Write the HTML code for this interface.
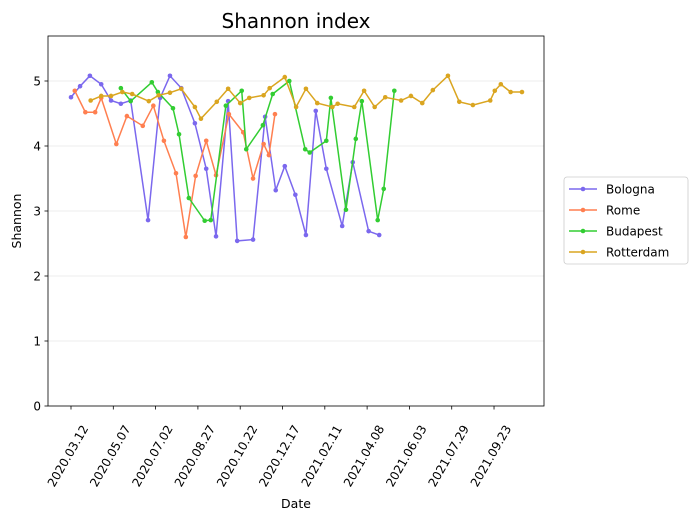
<!DOCTYPE html>
<html><head><meta charset="utf-8"><style>
body{margin:0;background:#fff;font-family:"Liberation Sans","DejaVu Sans",sans-serif}
svg text{font-family:"DejaVu Sans","Liberation Sans",sans-serif}
</style></head><body>
<svg id="c" width="697" height="521"></svg>
<script>
const tickLabels=["2020.03.12","2020.05.07","2020.07.02","2020.08.27","2020.10.22","2020.12.17","2021.02.11","2021.04.08","2021.06.03","2021.07.29","2021.09.23"];
const tickDays=[0,56,112,168,224,280,336,392,448,504,560];
const yTicks=[0,1,2,3,4,5];
const seriesNames=["Bologna","Rome","Budapest","Rotterdam"];
const seriesColors=["#7b68ee","#ff7f50","#32cd32","#daa520"];
const bolognaDays=[0,12,25,40,53,66,79,102,118,131,146,164,179,192,208,220,241,257,271,283,297,311,324,338,359,373,394,408];
const bolognaVals=[4.75,4.92,5.08,4.95,4.7,4.65,4.7,2.86,4.74,5.08,4.89,4.35,3.65,2.61,4.69,2.54,2.56,4.45,3.32,3.69,3.25,2.63,4.54,3.65,2.77,3.75,2.69,2.63];
const romeDays=[5,19,32,40,60,74,95,109,123,139,152,165,179,192,209,228,241,255,262,270];
const romeVals=[4.85,4.52,4.52,4.74,4.03,4.46,4.31,4.62,4.08,3.58,2.6,3.54,4.08,3.55,4.49,4.21,3.5,4.03,3.86,4.49];
const budapestDays=[66,79,107,115,135,143,156,177,185,205,226,232,254,267,289,310,316,338,344,364,377,385,406,414,428];
const budapestVals=[4.89,4.69,4.98,4.83,4.58,4.18,3.2,2.85,2.86,4.62,4.85,3.95,4.32,4.8,5.0,3.95,3.9,4.08,4.74,3.02,4.11,4.69,2.86,3.34,4.85];
const rotterdamDays=[26,40,53,68,81,103,116,131,146,164,172,193,208,224,236,255,263,283,298,311,326,346,353,375,388,402,416,437,450,465,479,499,514,532,555,561,569,582,597];
const rotterdamVals=[4.7,4.77,4.77,4.83,4.8,4.69,4.78,4.82,4.88,4.6,4.42,4.68,4.88,4.66,4.74,4.78,4.89,5.06,4.6,4.88,4.66,4.6,4.65,4.6,4.85,4.6,4.75,4.7,4.77,4.66,4.86,5.08,4.68,4.63,4.7,4.85,4.95,4.83,4.83];
const allDays=[bolognaDays,romeDays,budapestDays,rotterdamDays];
const allVals=[bolognaVals,romeVals,budapestVals,rotterdamVals];

const L=48,T=36,W=496,H=370;
const xs=d=>71+d*0.7554;
const ys=v=>406-v*65;
const svg=document.getElementById('c');
const NS="http://www.w3.org/2000/svg";
function mk(tag,attrs,parent){const e=document.createElementNS(NS,tag);for(const k in attrs)e.setAttribute(k,attrs[k]);(parent||svg).appendChild(e);return e;}
yTicks.forEach((v,i)=>{
 const g=mk('line',{x1:L,x2:L+W,y1:ys(v),y2:ys(v),stroke:'#e6e6e6','stroke-width':0.8});
 
 
 mk('line',{x1:L-3.5,x2:L,y1:ys(v),y2:ys(v),stroke:'#000','stroke-width':0.8});
 const tx=mk('text',{x:L-7,y:ys(v)+4.5,'text-anchor':'end','font-size':12});
 tx.textContent=v;
 
 
});
tickDays.forEach((d,i)=>{
 const x=xs(d);
 mk('line',{x1:x,x2:x,y1:T+H,y2:T+H+3.5,stroke:'#000','stroke-width':0.8});
 const tx=mk('text',{x:0,y:4,'text-anchor':'middle','font-size':12,transform:`translate(${x-3},${456}) rotate(-60)`});
 tx.textContent=tickLabels[i];
 
 
});
allDays.forEach((days,s)=>{
 const g=mk('g',{});
 
 
 const pts=days.map((d,i)=>xs(d)+','+ys(allVals[s][i])).join(' ');
 mk('polyline',{points:pts,fill:'none',stroke:seriesColors[s],'stroke-width':1.5},g);
 days.forEach((d,i)=>{
  const c=mk('circle',{cx:xs(d),cy:ys(allVals[s][i]),r:2.3,fill:seriesColors[s]},g);
  
  
 });
});
const fr=mk('rect',{x:L,y:T,width:W,height:H,fill:'none',stroke:'#000','stroke-width':0.8});


const ti=mk('text',{x:296,y:28,'text-anchor':'middle','font-size':20});
ti.textContent='Shannon index';


const xl=mk('text',{x:296,y:508,'text-anchor':'middle','font-size':12.5});
xl.textContent='Date';


const yl=mk('text',{x:0,y:0,'text-anchor':'middle','font-size':12.5,transform:'translate(21,221) rotate(-90)'});
yl.textContent='Shannon';


const lg=mk('g',{});


mk('rect',{x:564,y:177,width:124,height:87,rx:3,fill:'#fff',stroke:'#ccc','stroke-width':0.8},lg);
seriesNames.forEach((n,i)=>{
 const y=189+i*21;
 const e=mk('g',{},lg);
 
 
 mk('line',{x1:569,x2:597,y1:y,y2:y,stroke:seriesColors[i],'stroke-width':1.5},e);
 mk('circle',{cx:583,cy:y,r:2.3,fill:seriesColors[i]},e);
 const t=mk('text',{x:606,y:y+4.5,'font-size':12},e);
 t.textContent=n;
});
</script>
</body></html>
